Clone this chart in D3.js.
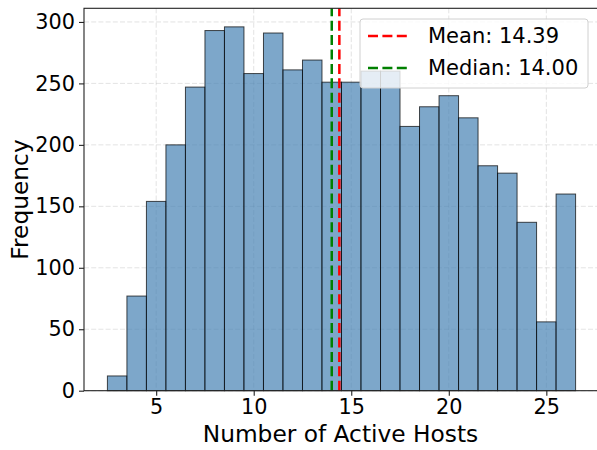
<!DOCTYPE html>
<html>
<head>
<meta charset="utf-8">
<script src="https://cdn.jsdelivr.net/npm/d3@7"></script>
<style>
  html, body { margin: 0; padding: 0; background: #fff; }
  svg { display: block; font-family: 'DejaVu Sans', sans-serif; }
</style>
</head>
<body>
<div id="chart"></div>
<script>
// Histogram of active hosts: bin edges and counts
const binStart = [2.5, 3.5, 4.5, 5.5, 6.5, 7.5, 8.5, 9.5, 10.5, 11.5, 12.5, 13.5,
                  14.5, 15.5, 16.5, 17.5, 18.5, 19.5, 20.5, 21.5, 22.5, 23.5, 24.5, 25.5];
const counts = [12, 77, 154, 200, 247, 293, 296, 258, 291, 261, 269, 251,
                251, 260, 260, 215, 231, 240, 222, 183, 177, 137, 56, 160];
const xTicks = [5, 10, 15, 20, 25];
const yTicks = [0, 50, 100, 150, 200, 250, 300];
const meanVal = 14.39;
const medianVal = 14.00;

const W = 597, H = 450;
const L = 84, R = 599, T = 8.3, B = 390.7;
const BIN_W = 1;

const svg = d3.select('#chart').append('svg')
  .attr('width', W).attr('height', H);

const x = d3.scaleLinear().domain([1.3, 27.7]).range([L, R]);
const y = d3.scaleLinear().domain([0, 311.1]).range([B, T]);

// ── Grid (behind bars) ────────────────────────────────────────────────────
const grid = svg.append('g').attr('stroke', '#b0b0b0').attr('stroke-opacity', 0.35)
  .attr('stroke-width', 1).attr('stroke-dasharray', '5 2.2');
xTicks.forEach(v => {
  grid.append('line').attr('x1', x(v)).attr('x2', x(v)).attr('y1', T).attr('y2', B);
});
yTicks.forEach(v => {
  grid.append('line').attr('x1', L).attr('x2', R).attr('y1', y(v)).attr('y2', y(v));
});

// ── Bars ──────────────────────────────────────────────────────────────────
const bins = binStart.map((s, i) => ({ x0: s, x1: s + BIN_W, n: counts[i] }));
svg.append('g').selectAll('rect').data(bins).enter()
  .append('rect')
  .attr('x', d => x(d.x0))
  .attr('y', d => y(d.n))
  .attr('width', d => x(d.x1) - x(d.x0))
  .attr('height', d => y(0) - y(d.n))
  .attr('fill', 'steelblue').attr('fill-opacity', 0.7)
  .attr('stroke', '#000').attr('stroke-opacity', 0.7).attr('stroke-width', 1);

// ── Mean / median lines ───────────────────────────────────────────────────
const refLines = [
  { v: meanVal, color: 'red', label: 'Mean: ' + meanVal.toFixed(2) },
  { v: medianVal, color: 'green', label: 'Median: ' + medianVal.toFixed(2) },
];
refLines.forEach(d => {
  svg.append('line')
    .attr('x1', x(d.v)).attr('x2', x(d.v)).attr('y1', B).attr('y2', T)
    .attr('stroke', d.color).attr('stroke-width', 2.5)
    .attr('stroke-dasharray', '10 4.4');
});

// ── Spines ────────────────────────────────────────────────────────────────
svg.append('rect')
  .attr('x', L).attr('y', T).attr('width', R - L).attr('height', B - T)
  .attr('fill', 'none').attr('stroke', '#222').attr('stroke-width', 1.1);

// ── Axes ──────────────────────────────────────────────────────────────────
const xAxis = svg.append('g').attr('transform', `translate(0,${B})`)
  .call(d3.axisBottom(x).tickValues(xTicks).tickSize(5).tickPadding(4));
const yAxis = svg.append('g').attr('transform', `translate(${L},0)`)
  .call(d3.axisLeft(y).tickValues(yTicks).tickSize(5).tickPadding(4));
[xAxis, yAxis].forEach(a => {
  a.select('.domain').remove();
  a.selectAll('.tick line').attr('stroke', '#222').attr('stroke-width', 1.1);
  a.selectAll('.tick text').attr('fill', '#000')
    .attr('font-size', '20.8px').attr('font-family', "'DejaVu Sans', sans-serif");
});

svg.append('text')
  .attr('x', (L + R) / 2 - 1).attr('y', 442)
  .attr('text-anchor', 'middle').attr('font-size', '23.3px')
  .text('Number of Active Hosts');

svg.append('text')
  .attr('transform', `translate(28,${(T + B) / 2}) rotate(-90)`)
  .attr('text-anchor', 'middle').attr('font-size', '23.3px')
  .text('Frequency');

// ── Legend ────────────────────────────────────────────────────────────────
const leg = svg.append('g');
leg.append('rect')
  .attr('x', 360).attr('y', 19).attr('width', 228).attr('height', 69)
  .attr('rx', 3).attr('fill', '#fff').attr('fill-opacity', 0.8)
  .attr('stroke', '#d0d0d0').attr('stroke-width', 1);
refLines.forEach((d, i) => {
  const ry = 36 + i * 32;
  leg.append('line')
    .attr('x1', 368).attr('x2', 410).attr('y1', ry).attr('y2', ry)
    .attr('stroke', d.color).attr('stroke-width', 2.5)
    .attr('stroke-dasharray', '10 4.4');
  leg.append('text')
    .attr('x', 428).attr('y', ry).attr('dy', '0.35em')
    .attr('font-size', '21px').text(d.label);
});
</script>
</body>
</html>
